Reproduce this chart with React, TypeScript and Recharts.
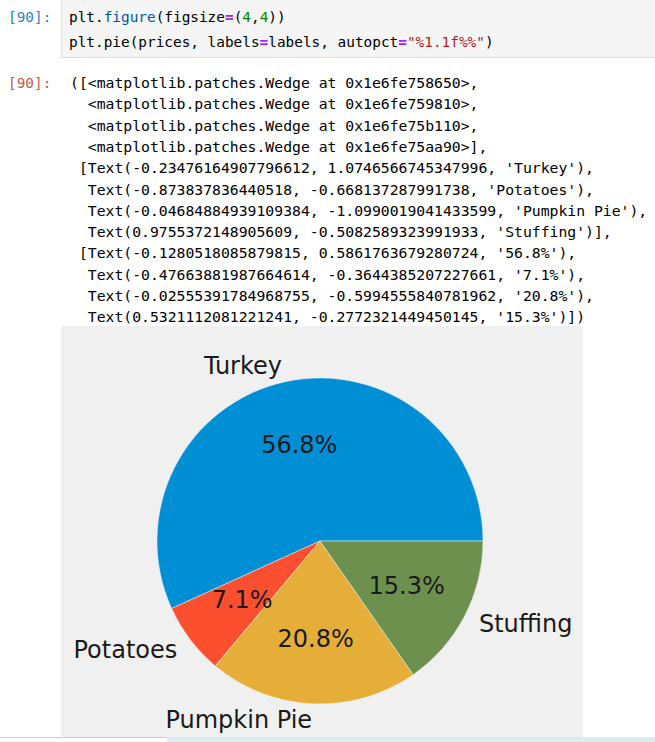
import React from "react";
import { PieChart, Pie, Cell } from "recharts";

const labels = ["Turkey", "Potatoes", "Pumpkin Pie", "Stuffing"];
const prices = [56.8, 7.1, 20.8, 15.3];
const colors = ["#008fd5", "#fc4f30", "#e5ae38", "#6d904f"];

const outputLines = [
  "([<matplotlib.patches.Wedge at 0x1e6fe758650>,",
  "  <matplotlib.patches.Wedge at 0x1e6fe759810>,",
  "  <matplotlib.patches.Wedge at 0x1e6fe75b110>,",
  "  <matplotlib.patches.Wedge at 0x1e6fe75aa90>],",
  " [Text(-0.23476164907796612, 1.0746566745347996, 'Turkey'),",
  "  Text(-0.873837836440518, -0.668137287991738, 'Potatoes'),",
  "  Text(-0.04684884939109384, -1.0990019041433599, 'Pumpkin Pie'),",
  "  Text(0.9755372148905609, -0.5082589323991933, 'Stuffing')],",
  " [Text(-0.1280518085879815, 0.5861763679280724, '56.8%'),",
  "  Text(-0.47663881987664614, -0.3644385207227661, '7.1%'),",
  "  Text(-0.02555391784968755, -0.5994555840781962, '20.8%'),",
  "  Text(0.5321112081221241, -0.2772321449450145, '15.3%')])",
];

const data = labels.map((name, i) => ({ name, value: prices[i] }));

const MONO = "'DejaVu Sans Mono', monospace";
const FS_CODE = 14.4;
const FS_OUT = 14.75;
const RAD = Math.PI / 180;

const renderLabel = (props: any) => {
  const { cx, cy, midAngle, outerRadius, percent, name, index } = props;
  const cos = Math.cos(-midAngle * RAD);
  const sin = Math.sin(-midAngle * RAD);
  const lx = cx + outerRadius * 1.1 * cos;
  const ly = cy + outerRadius * 1.1 * sin;
  const px = cx + outerRadius * 0.6 * cos;
  const py = cy + outerRadius * 0.6 * sin;
  return (
    <g key={`lbl-${index}`}>
      <text
        x={lx}
        y={ly}
        textAnchor={cos >= 0 ? "start" : "end"}
        dominantBaseline="central"
        fontFamily="'DejaVu Sans', sans-serif"
        fontSize={24}
        fill="#1a1a1a"
      >
        {name}
      </text>
      <text
        x={px}
        y={py}
        textAnchor="middle"
        dominantBaseline="central"
        fontFamily="'DejaVu Sans', sans-serif"
        fontSize={24}
        fill="#1a1a1a"
      >
        {`${(percent * 100).toFixed(1)}%`}
      </text>
    </g>
  );
};

export default function App() {
  const lineTop = (i: number) => 83 + i * 21.3 - 11;
  return (
    <div
      style={{
        position: "fixed",
        left: 0,
        top: 0,
        width: 655,
        height: 742,
        overflow: "hidden",
        background: "#ffffff",
      }}
    >
      {/* input prompt */}
      <div
        style={{
          position: "absolute",
          left: 8,
          top: 6,
          fontFamily: MONO,
          fontSize: FS_CODE,
          lineHeight: "22px",
          color: "#307fc1",
          whiteSpace: "pre",
        }}
      >
        [90]:
      </div>
      {/* code box */}
      <div
        style={{
          position: "absolute",
          left: 61,
          top: -1,
          width: 610,
          height: 57,
          background: "#f5f5f5",
          border: "1px solid #e0e0e0",
        }}
      />
      <div
        style={{
          position: "absolute",
          left: 69,
          top: 6,
          fontFamily: MONO,
          fontSize: FS_CODE,
          lineHeight: "22px",
          color: "#000",
          whiteSpace: "pre",
        }}
      >
        plt.<span style={{ color: "#0055aa" }}>figure</span>(figsize
        <span style={{ color: "#aa22ff", fontWeight: "bold" }}>=</span>(
        <span style={{ color: "#008800" }}>4</span>,
        <span style={{ color: "#008800" }}>4</span>))
      </div>
      <div
        style={{
          position: "absolute",
          left: 69,
          top: 31,
          fontFamily: MONO,
          fontSize: FS_CODE,
          lineHeight: "22px",
          color: "#000",
          whiteSpace: "pre",
        }}
      >
        plt.pie(prices, labels
        <span style={{ color: "#aa22ff", fontWeight: "bold" }}>=</span>labels, autopct
        <span style={{ color: "#aa22ff", fontWeight: "bold" }}>=</span>
        <span style={{ color: "#ba2121" }}>"%1.1f%%"</span>)
      </div>
      {/* output prompt */}
      <div
        style={{
          position: "absolute",
          left: 8,
          top: lineTop(0),
          fontFamily: MONO,
          fontSize: FS_CODE,
          lineHeight: "22px",
          color: "#bf5b3d",
          whiteSpace: "pre",
        }}
      >
        [90]:
      </div>
      {outputLines.map((ln, i) => (
        <div
          key={i}
          style={{
            position: "absolute",
            left: 70,
            top: lineTop(i),
            fontFamily: MONO,
            fontSize: FS_OUT,
            lineHeight: "22px",
            color: "#000",
            whiteSpace: "pre",
          }}
        >
          {ln}
        </div>
      ))}
      {/* figure */}
      <div style={{ position: "absolute", left: 61, top: 326 }}>
        <PieChart
          width={522}
          height={411}
          style={{ background: "#f0f0f0" }}
          margin={{ top: 0, right: 0, bottom: 0, left: 0 }}
        >
          <Pie
            data={data}
            dataKey="value"
            nameKey="name"
            cx={259}
            cy={215}
            outerRadius={163}
            startAngle={0}
            endAngle={360}
            stroke="#f0f0f0"
            strokeWidth={0.5}
            label={renderLabel}
            labelLine={false}
            isAnimationActive={false}
          >
            {data.map((d, i) => (
              <Cell key={d.name} fill={colors[i]} />
            ))}
          </Pie>
        </PieChart>
      </div>
      {/* bottom strip */}
      <div
        style={{
          position: "absolute",
          left: 0,
          top: 737,
          width: 167,
          height: 5,
          background: "#ffffff",
          borderTop: "1px solid #cccccc",
        }}
      />
      <div
        style={{
          position: "absolute",
          left: 167,
          top: 737,
          width: 488,
          height: 5,
          background: "#d9edf3",
        }}
      />
    </div>
  );
}
